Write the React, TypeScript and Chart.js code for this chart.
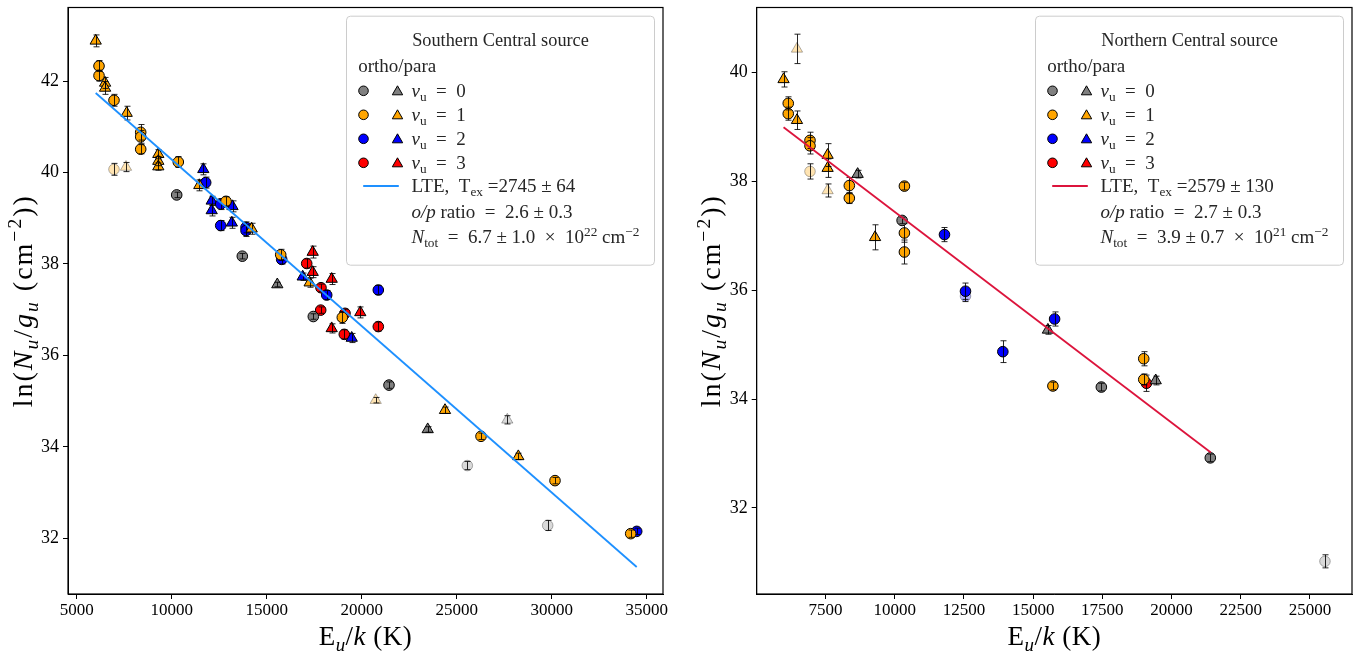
import React, { useEffect, useRef } from 'react';
import { Chart, registerables } from 'chart.js';

Chart.register(...registerables);

const FONT = '"Liberation Serif", "Times New Roman", serif';

// ---------------- Southern Central source: [E_u/k (K), ln(N_u/g_u), error] ----------------
const southV0Ortho = [[10263, 39.51, 0.06], [13716, 38.17, 0.06], [17453, 36.85, 0.06], [21437, 35.35, 0.07]];
const southV0OrthoFaint = [[25558, 33.59, 0.09], [29789, 32.28, 0.11]];
const southV0Para = [[15558, 37.55, 0.05], [23474, 34.38, 0.06]];
const southV0ParaFaint = [[27663, 34.59, 0.09]];
const southV1Ortho = [[6174, 42.33, 0.12], [6174, 42.12, 0.12], [6963, 41.58, 0.13], [8368, 40.88, 0.17], [8368, 40.78, 0.14], [8368, 40.51, 0.1], [10347, 40.23, 0.12], [12858, 39.37, 0.1], [15737, 38.2, 0.12], [18979, 36.83, 0.13], [26279, 34.23, 0.07], [30174, 33.26, 0.07], [34158, 32.1, 0.08]];
const southV1OrthoFaint = [[6963, 40.07, 0.13]];
const southV1Para = [[6000, 42.88, 0.13], [6495, 41.96, 0.12], [6495, 41.85, 0.14], [7630, 41.3, 0.15], [9295, 40.4, 0.1], [9295, 40.25, 0.1], [9295, 40.13, 0.08], [11453, 39.72, 0.12], [14210, 38.77, 0.12], [17260, 37.59, 0.1], [24384, 34.8, 0.07], [28242, 33.79, 0.07]];
const southV1ParaFaint = [[7595, 40.12, 0.1], [20737, 35.02, 0.06]];
const southV2Ortho = [[11789, 39.78, 0.12], [12579, 39.31, 0.12], [12579, 38.84, 0.11], [13911, 38.8, 0.12], [13911, 38.73, 0.13], [15789, 38.1, 0.1], [18158, 37.32, 0.1], [20874, 37.43, 0.1], [34474, 32.15, 0.07]];
const southV2Para = [[11663, 40.07, 0.12], [12105, 39.38, 0.1], [12105, 39.17, 0.12], [13200, 39.26, 0.12], [13166, 38.9, 0.12], [16895, 37.72, 0.08], [19474, 36.38, 0.1]];
const southV3Ortho = [[17105, 38.01, 0.1], [17858, 37.48, 0.08], [17842, 36.99, 0.07], [19121, 36.92, 0.09], [20874, 36.63, 0.1], [19084, 36.46, 0.1]];
const southV3Para = [[17421, 38.26, 0.13], [17421, 37.82, 0.12], [18421, 37.67, 0.12], [19926, 36.94, 0.12], [18421, 36.59, 0.1]];
const southFitE = [6000, 34474];
const southFitLn = [41.74, 31.37];

// ---------------- Northern Central source ----------------
const northV0Ortho = [[10264, 37.28, 0.06], [17463, 34.22, 0.07], [21400, 32.92, 0.07]];
const northV0OrthoFaint = [[25543, 31.02, 0.12]];
const northV0Para = [[8658, 38.13, 0.07], [15532, 35.27, 0.08], [19428, 34.34, 0.08]];
const northV1Ortho = [[6150, 39.43, 0.12], [6150, 39.24, 0.12], [6936, 38.75, 0.15], [6936, 38.65, 0.15], [8357, 37.92, 0.15], [8357, 37.69, 0.1], [10347, 37.91, 0.07], [10347, 37.05, 0.17], [10347, 36.7, 0.22], [15713, 34.24, 0.07], [18995, 34.74, 0.13], [18995, 34.36, 0.1]];
const northV1OrthoFaint = [[6936, 38.18, 0.14]];
const northV1Para = [[5980, 39.87, 0.14], [6465, 39.12, 0.17], [7572, 38.48, 0.21], [7572, 38.24, 0.17], [9287, 36.97, 0.23]];
const northV1ParaFaint = [[6465, 40.43, 0.27], [7572, 37.83, 0.12]];
const northV2Ortho = [[11795, 37.02, 0.13], [12554, 35.98, 0.15], [13904, 34.87, 0.2], [15774, 35.47, 0.13]];
const northV2OrthoFaint = [[12554, 35.89, 0.1]];
const northV3Ortho = [[19092, 34.29, 0.15]];
const northFitE = [5980, 21418];
const northFitLn = [38.99, 33.02];

// ---------------- ticks & labels ----------------
const southXTicks = [5000, 10000, 15000, 20000, 25000, 30000, 35000];
const southYTicks = [32, 34, 36, 38, 40, 42];
const northXTicks = [7500, 10000, 12500, 15000, 17500, 20000, 22500, 25000];
const northYTicks = [32, 34, 36, 38, 40];
const vLevels = ['0', '1', '2', '3'];
const levelColors = ['#808080', '#ffa500', '#0000ff', '#ff0000'];

const southText = { title: 'Southern Central source', tex: '2745 ± 64', op: '2.6 ± 0.3', ntot: '6.7 ± 1.0', exp: '22' };
const northText = { title: 'Northern Central source', tex: '2579 ± 130', op: '2.7 ± 0.3', ntot: '3.9 ± 0.7', exp: '21' };

const SP = '\u2002';

type Seg = { t: string; i?: boolean; s?: 'sub' | 'sup' };

function segFont(seg: Seg, size: number) {
  const sz = seg.s ? size * 0.7 : size;
  return `${seg.i ? 'italic ' : ''}${sz}px ${FONT}`;
}

function drawRich(ctx: CanvasRenderingContext2D, segs: Seg[], x: number, y: number, size: number, align: 'left' | 'center', spacing = 0) {
  const c: any = ctx;
  const prevLs = c.letterSpacing;
  if (spacing) c.letterSpacing = spacing + 'px';
  let total = 0;
  const widths = segs.map((s) => {
    ctx.font = segFont(s, size);
    const w = ctx.measureText(s.t).width;
    total += w;
    return w;
  });
  let cx = align === 'center' ? x - total / 2 : x;
  ctx.textBaseline = 'alphabetic';
  ctx.textAlign = 'left';
  segs.forEach((s, k) => {
    ctx.font = segFont(s, size);
    const dy = s.s === 'sub' ? size * 0.22 : s.s === 'sup' ? -size * 0.38 : 0;
    ctx.fillText(s.t, cx, y + dy);
    cx += widths[k];
  });
  if (spacing) c.letterSpacing = prevLs || '0px';
}

function marker(ctx: CanvasRenderingContext2D, shape: string, x: number, y: number, r: number, fill: string) {
  ctx.beginPath();
  if (shape === 'circle') {
    ctx.arc(x, y, r, 0, Math.PI * 2);
  } else {
    const a = (2 * Math.PI) / 3;
    ctx.moveTo(x, y - r);
    ctx.lineTo(x + Math.sin(a) * r, y - Math.cos(a) * r);
    ctx.lineTo(x + Math.sin(2 * a) * r, y - Math.cos(2 * a) * r);
    ctx.closePath();
  }
  ctx.fillStyle = fill;
  ctx.fill();
  ctx.strokeStyle = '#000';
  ctx.lineWidth = 1;
  ctx.stroke();
}

function fade(hex: string, a: number) {
  const n = parseInt(hex.slice(1), 16);
  return `rgba(${(n >> 16) & 255},${(n >> 8) & 255},${n & 255},${a})`;
}

type Group = { data: number[][]; level: number; shape: 'circle' | 'triangle'; faint?: boolean };

function buildGroups(list: Group[]) {
  return list.map((g) => {
    const c = levelColors[g.level];
    return {
      type: 'scatter' as const,
      data: g.data.map((p) => ({ x: p[0], y: p[1] })),
      errs: g.data.map((p) => p[2]),
      pointStyle: g.shape,
      pointRadius: g.shape === 'circle' ? 5.3 : 6.5,
      pointHoverRadius: g.shape === 'circle' ? 5.3 : 6.5,
      backgroundColor: g.faint ? fade(c, 0.3) : c,
      borderColor: g.faint ? 'rgba(0,0,0,0.3)' : '#000',
      borderWidth: 1,
      order: 1,
    };
  });
}

const southGroups: Group[] = [
  { data: southV0Ortho, level: 0, shape: 'circle' },
  { data: southV0OrthoFaint, level: 0, shape: 'circle', faint: true },
  { data: southV0Para, level: 0, shape: 'triangle' },
  { data: southV0ParaFaint, level: 0, shape: 'triangle', faint: true },
  { data: southV1Ortho, level: 1, shape: 'circle' },
  { data: southV1OrthoFaint, level: 1, shape: 'circle', faint: true },
  { data: southV1Para, level: 1, shape: 'triangle' },
  { data: southV1ParaFaint, level: 1, shape: 'triangle', faint: true },
  { data: southV2Ortho, level: 2, shape: 'circle' },
  { data: southV2Para, level: 2, shape: 'triangle' },
  { data: southV3Ortho, level: 3, shape: 'circle' },
  { data: southV3Para, level: 3, shape: 'triangle' },
];

const northGroups: Group[] = [
  { data: northV0Ortho, level: 0, shape: 'circle' },
  { data: northV0OrthoFaint, level: 0, shape: 'circle', faint: true },
  { data: northV0Para, level: 0, shape: 'triangle' },
  { data: northV1Ortho, level: 1, shape: 'circle' },
  { data: northV1OrthoFaint, level: 1, shape: 'circle', faint: true },
  { data: northV1Para, level: 1, shape: 'triangle' },
  { data: northV1ParaFaint, level: 1, shape: 'triangle', faint: true },
  { data: northV2Ortho, level: 2, shape: 'circle' },
  { data: northV2OrthoFaint, level: 2, shape: 'circle', faint: true },
  { data: northV3Ortho, level: 3, shape: 'circle' },
];

type PanelCfg = {
  groups: Group[];
  fitE: number[];
  fitLn: number[];
  fitColor: string;
  xMin: number;
  xMax: number;
  yMin: number;
  yMax: number;
  xTicks: number[];
  yTicks: number[];
  text: typeof southText;
  yAxisWidth: number;
  width: number;
};

function makeConfig(cfg: PanelCfg): any {
  const datasets: any[] = buildGroups(cfg.groups);
  datasets.push({
    type: 'line',
    data: cfg.fitE.map((e, k) => ({ x: e, y: cfg.fitLn[k] })),
    borderColor: cfg.fitColor,
    borderWidth: 1.8,
    pointRadius: 0,
    fill: false,
    order: 0,
  });

  const decor = {
    id: 'decor',
    afterDatasetDraw(chart: any, args: any) {
      const ds = chart.data.datasets[args.index];
      if (!ds.errs) return;
      const { ctx, chartArea } = chart;
      const xs = chart.scales.x;
      const ys = chart.scales.y;
      ctx.save();
      ctx.beginPath();
      ctx.rect(chartArea.left, chartArea.top, chartArea.right - chartArea.left, chartArea.bottom - chartArea.top);
      ctx.clip();
      ctx.strokeStyle = 'rgba(0,0,0,0.85)';
      ctx.lineWidth = 1;
      ds.data.forEach((p: any, k: number) => {
        const e = ds.errs[k];
        const px = Math.round(xs.getPixelForValue(p.x)) + 0.5;
        const y1 = ys.getPixelForValue(p.y + e);
        const y2 = ys.getPixelForValue(p.y - e);
        ctx.beginPath();
        ctx.moveTo(px, y1);
        ctx.lineTo(px, y2);
        ctx.moveTo(px - 3, y1);
        ctx.lineTo(px + 3, y1);
        ctx.moveTo(px - 3, y2);
        ctx.lineTo(px + 3, y2);
        ctx.stroke();
      });
      ctx.restore();
    },
    afterDraw(chart: any) {
      const { ctx, chartArea } = chart;
      const { left, right, top, bottom } = chartArea;
      ctx.save();
      // frame
      ctx.strokeStyle = '#000';
      ctx.lineWidth = 1.2;
      ctx.strokeRect(left, top, right - left, bottom - top);

      // legend box
      const bw = 308;
      const bh = 249;
      const bx = right - 8.5 - bw;
      const by = top + 8.7;
      ctx.beginPath();
      (ctx as any).roundRect(bx, by, bw, bh, 4);
      ctx.fillStyle = 'rgba(255,255,255,0.8)';
      ctx.fill();
      ctx.strokeStyle = '#cccccc';
      ctx.lineWidth = 1;
      ctx.stroke();

      ctx.fillStyle = '#262626';
      const fs = 19;
      const base = fs * 0.32;
      drawRich(ctx, [{ t: cfg.text.title }], bx + 154, by + 24 + base, 18.3, 'center');
      drawRich(ctx, [{ t: 'ortho/para' }], bx + 11.7, by + 49.3 + base, fs, 'left');
      vLevels.forEach((lv, k) => {
        const cy = by + 74.6 + k * 24;
        marker(ctx, 'circle', bx + 17, cy, 4.8, levelColors[k]);
        marker(ctx, 'triangle', bx + 51, cy + 1, 6, levelColors[k]);
        ctx.fillStyle = '#262626';
        drawRich(ctx, [{ t: 'v', i: true }, { t: 'u', s: 'sub' }, { t: SP + '=' + SP + lv }], bx + 65, cy + base, fs, 'left');
      });
      const ly = by + 169.8;
      ctx.strokeStyle = cfg.fitColor;
      ctx.lineWidth = 1.8;
      ctx.beginPath();
      ctx.moveTo(bx + 16.7, ly);
      ctx.lineTo(bx + 52.3, ly);
      ctx.stroke();
      ctx.fillStyle = '#262626';
      drawRich(ctx, [{ t: 'LTE,  T' }, { t: 'ex', s: 'sub' }, { t: ' =' + cfg.text.tex }], bx + 65, ly + base, fs, 'left');
      drawRich(ctx, [{ t: 'o/p', i: true }, { t: ' ratio' + SP + '=' + SP + cfg.text.op }], bx + 65, by + 195.6 + base, fs, 'left');
      drawRich(
        ctx,
        [{ t: 'N', i: true }, { t: 'tot', s: 'sub' }, { t: SP + '=' + SP + cfg.text.ntot + SP + '×' + SP + '10' }, { t: cfg.text.exp, s: 'sup' }, { t: ' cm' }, { t: '−2', s: 'sup' }],
        bx + 65,
        by + 220.6 + base,
        fs,
        'left'
      );

      // axis titles
      ctx.fillStyle = '#000';
      const ts = 27;
      drawRich(ctx, [{ t: 'E' }, { t: 'u', i: true, s: 'sub' }, { t: '/' }, { t: 'k', i: true }, { t: ' (K)' }], (left + right) / 2, 645, ts, 'center', 0.5);
      ctx.save();
      ctx.translate(left - 46 + 9.5, (top + bottom) / 2);
      ctx.rotate(-Math.PI / 2);
      drawRich(
        ctx,
        [{ t: 'ln(' }, { t: 'N', i: true }, { t: 'u', i: true, s: 'sub' }, { t: '/' }, { t: 'g', i: true }, { t: 'u', i: true, s: 'sub' }, { t: ' (cm' }, { t: '−2', s: 'sup' }, { t: '))' }],
        0,
        0,
        28,
        'center',
        2
      );
      ctx.restore();
      ctx.restore();
    },
  };

  return {
    data: { datasets },
    options: {
      animation: false,
      responsive: false,
      maintainAspectRatio: false,
      layout: { padding: { left: 0, right: 17, top: 4, bottom: 0 } },
      plugins: { legend: { display: false }, tooltip: { enabled: false } },
      scales: {
        x: {
          type: 'linear',
          min: cfg.xMin,
          max: cfg.xMax,
          afterFit: (s: any) => {
            s.height = 59;
            s.paddingLeft = 0;
            s.paddingRight = 0;
          },
          afterBuildTicks: (s: any) => {
            s.ticks = cfg.xTicks.map((v) => ({ value: v }));
          },
          grid: { display: true, drawOnChartArea: false, drawTicks: true, tickLength: 5, color: '#000', lineWidth: 1 },
          border: { display: true, color: '#000', width: 1 },
          ticks: { color: '#000', font: { family: FONT, size: 17 }, padding: 1, maxRotation: 0, autoSkip: false, callback: (v: any) => String(v) },
        },
        y: {
          type: 'linear',
          min: cfg.yMin,
          max: cfg.yMax,
          afterFit: (s: any) => {
            s.width = cfg.yAxisWidth;
            s.paddingTop = 0;
            s.paddingBottom = 0;
          },
          afterBuildTicks: (s: any) => {
            s.ticks = cfg.yTicks.map((v) => ({ value: v }));
          },
          grid: { display: true, drawOnChartArea: false, drawTicks: true, tickLength: 5, color: '#000', lineWidth: 1 },
          border: { display: true, color: '#000', width: 1 },
          ticks: { color: '#000', font: { family: FONT, size: 18 }, padding: 4, autoSkip: false, callback: (v: any) => String(v) },
        },
      },
    },
    plugins: [decor],
  };
}

const southCfg: PanelCfg = {
  groups: southGroups,
  fitE: southFitE,
  fitLn: southFitLn,
  fitColor: '#1e90ff',
  xMin: 4542,
  xMax: 35858,
  yMin: 30.78,
  yMax: 43.61,
  xTicks: southXTicks,
  yTicks: southYTicks,
  text: southText,
  yAxisWidth: 68,
  width: 680,
};

const northCfg: PanelCfg = {
  groups: northGroups,
  fitE: northFitE,
  fitLn: northFitLn,
  fitColor: '#dc143c',
  xMin: 5010,
  xMax: 26520,
  yMin: 30.42,
  yMax: 41.19,
  xTicks: northXTicks,
  yTicks: northYTicks,
  text: northText,
  yAxisWidth: 71.7,
  width: 684,
};

function Panel({ cfg, left }: { cfg: PanelCfg; left: number }) {
  const ref = useRef<HTMLCanvasElement>(null);
  useEffect(() => {
    if (!ref.current) return;
    const chart = new Chart(ref.current, makeConfig(cfg));
    return () => chart.destroy();
  }, [cfg]);
  return (
    <canvas
      ref={ref}
      width={cfg.width}
      height={653}
      style={{ position: 'absolute', left, top: 0, width: cfg.width, height: 653 }}
    />
  );
}

export default function App() {
  return (
    <div style={{ position: 'absolute', left: 0, top: 0, width: 1369, height: 653, background: '#fff', overflow: 'hidden' }}>
      <Panel cfg={southCfg} left={0} />
      <Panel cfg={northCfg} left={685} />
    </div>
  );
}
